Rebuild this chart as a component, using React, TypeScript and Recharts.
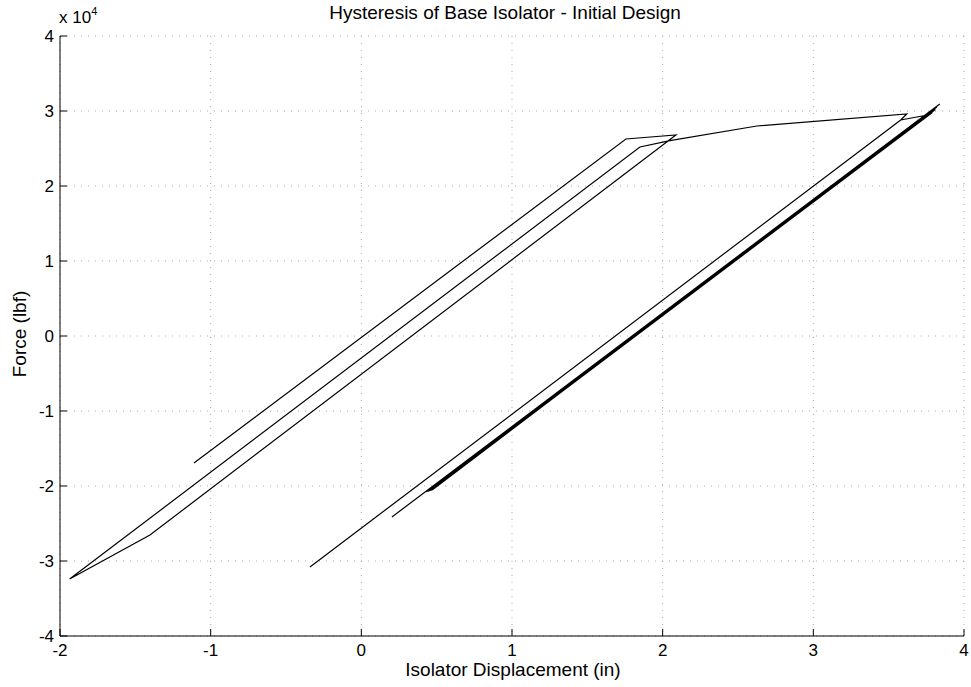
import React from 'react';
import { LineChart, Line, XAxis, YAxis, CartesianGrid } from 'recharts';

// isolator displacement (in) and force (lbf), in time order
const displacement = [
  -1.111, 1.756, 2.088, -1.403, -1.936, 1.849, 2.048, 2.625, 3.62, 3.58,
  -0.341, 3.58, 3.74, 0.203, 3.839, 0.44, 3.8, 0.46, 3.79, 0.45,
  3.81, 0.43, 3.82, 0.47,
];
const force = [
  -16930, 26270, 26800, -26530, -32400, 25200, 26040, 28000, 29600, 28800,
  -30800, 28800, 29400, -24130, 30930, -20720, 30150, -20600, 29810, -20660,
  30210, -20780, 30540, -20540,
];

const xTicks = [-2, -1, 0, 1, 2, 3, 4];
const yTicks = [-40000, -30000, -20000, -10000, 0, 10000, 20000, 30000, 40000];

const data = displacement.map((d, i) => ({ d, f: force[i] }));

const FONT = "'Liberation Sans', Arial, sans-serif";

const BottomTick = (props: any) => {
  const { x, y, payload } = props;
  return (
    <g>
      <line x1={x} y1={y} x2={x} y2={y - 7} stroke="#000" />
      <text x={x} y={y + 20} textAnchor="middle" fontSize={17} fontFamily={FONT} fill="#000">
        {payload.value}
      </text>
    </g>
  );
};

const TopTick = (props: any) => {
  const { x, y } = props;
  return <line x1={x} y1={y} x2={x} y2={y + 7} stroke="#000" />;
};

const LeftTick = (props: any) => {
  const { x, y, payload } = props;
  return (
    <g>
      <line x1={x} y1={y} x2={x + 7} y2={y} stroke="#000" />
      <text x={x - 6} y={y + 6} textAnchor="end" fontSize={17} fontFamily={FONT} fill="#000">
        {payload.value / 10000}
      </text>
    </g>
  );
};

const RightTick = (props: any) => {
  const { x, y } = props;
  return <line x1={x} y1={y} x2={x - 7} y2={y} stroke="#000" />;
};

export default function App() {
  return (
    <div style={{ position: 'absolute', left: 0, top: 0, width: 971, height: 687, background: '#fff', fontFamily: FONT }}>
      <LineChart width={971} height={687} data={data} margin={{ top: 36, right: 7, bottom: 21, left: 0 }}>
        <CartesianGrid xAxisId="b" yAxisId="l" stroke="#aaa" strokeDasharray="1 6" />
        <XAxis
          xAxisId="b"
          dataKey="d"
          type="number"
          domain={[-2, 4]}
          ticks={xTicks}
          height={30}
          tickSize={0}
          tickMargin={0}
          tickLine={false}
          axisLine={{ stroke: '#000' }}
          tick={<BottomTick />}
          interval={0}
        />
        <XAxis
          xAxisId="t"
          orientation="top"
          type="number"
          domain={[-2, 4]}
          ticks={xTicks}
          height={0}
          tickSize={0}
          tickMargin={0}
          tickLine={false}
          axisLine={{ stroke: '#000' }}
          tick={<TopTick />}
          interval={0}
        />
        <YAxis
          yAxisId="l"
          type="number"
          domain={[-40000, 40000]}
          ticks={yTicks}
          width={60}
          tickSize={0}
          tickMargin={0}
          tickLine={false}
          axisLine={{ stroke: '#000' }}
          tick={<LeftTick />}
          interval={0}
        />
        <YAxis
          yAxisId="r"
          orientation="right"
          type="number"
          domain={[-40000, 40000]}
          ticks={yTicks}
          width={0}
          tickSize={0}
          tickMargin={0}
          tickLine={false}
          axisLine={{ stroke: '#000' }}
          tick={<RightTick />}
          interval={0}
        />
        <Line
          xAxisId="b"
          yAxisId="l"
          dataKey="f"
          type="linear"
          stroke="#000"
          strokeWidth={1.2}
          dot={false}
          activeDot={false}
          isAnimationActive={false}
        />
      </LineChart>
      <div style={{ position: 'absolute', left: 0, width: 1010, top: 2, textAlign: 'center', fontSize: 19, color: '#000' }}>
        Hysteresis of Base Isolator - Initial Design
      </div>
      <div style={{ position: 'absolute', left: 59, top: 8, fontSize: 17, color: '#000' }}>
        x 10<sup style={{ fontSize: 11, verticalAlign: 'top', position: 'relative', top: -3 }}>4</sup>
      </div>
      <div style={{ position: 'absolute', left: 0, width: 1026, top: 659, textAlign: 'center', fontSize: 19, color: '#000' }}>
        Isolator Displacement (in)
      </div>
      <div
        style={{
          position: 'absolute',
          left: 20,
          top: 334,
          transform: 'translate(-50%, -50%) rotate(-90deg)',
          fontSize: 19,
          color: '#000',
          whiteSpace: 'nowrap',
        }}
      >
        Force (lbf)
      </div>
    </div>
  );
}
